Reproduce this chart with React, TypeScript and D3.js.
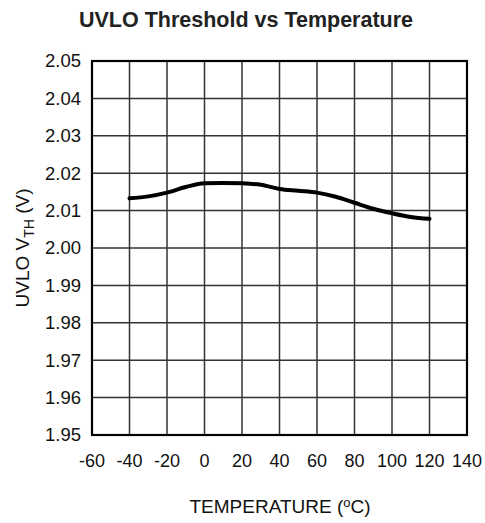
import React from "react";
import * as d3 from "d3";

const temps = [-40, -30, -20, -10, 0, 10, 20, 30, 40, 50, 60, 70, 80, 90, 100, 110, 120];
const vth = [2.0133, 2.0138, 2.0148, 2.0163, 2.0173, 2.0174, 2.0173, 2.0169, 2.0158, 2.0153, 2.0148, 2.0137, 2.0121, 2.0105, 2.0093, 2.0083, 2.0078];
const xTicks = [-60, -40, -20, 0, 20, 40, 60, 80, 100, 120, 140];
const yTicks = [1.95, 1.96, 1.97, 1.98, 1.99, 2.0, 2.01, 2.02, 2.03, 2.04, 2.05];

const W = 485, H = 523;
const L = 92, R = 467, T = 61, B = 435;

export default function App() {
  const x = d3.scaleLinear().domain([-60, 140]).range([L, R]);
  const y = d3.scaleLinear().domain([1.95, 2.05]).range([B, T]);
  const line = d3.line<number>().x((_, i) => x(temps[i])).y((d) => y(d)).curve(d3.curveMonotoneX);
  const font = "Liberation Sans, Arial, sans-serif";
  return (
    <svg width={W} height={H} style={{ position: "absolute", left: 0, top: 0 }} fontFamily={font}>
      <rect width={W} height={H} fill="#fff" />
      <text x={246} y={27} textAnchor="middle" fontSize={21.5} fontWeight="bold" fill="#222">UVLO Threshold vs Temperature</text>
      {xTicks.map((t) => (
        <line key={"vx" + t} x1={x(t)} x2={x(t)} y1={T} y2={B} stroke="#333" strokeWidth={1.5} />
      ))}
      {yTicks.map((t) => (
        <line key={"hy" + t} x1={L} x2={R} y1={y(t)} y2={y(t)} stroke="#333" strokeWidth={1.5} />
      ))}
      <rect x={L} y={T} width={R - L} height={B - T} fill="none" stroke="#000" strokeWidth={2.2} />
      <path d={line(vth) || ""} fill="none" stroke="#000" strokeWidth={4} strokeLinecap="round" />
      {yTicks.map((t) => (
        <text key={"ly" + t} x={81} y={y(t)} dy="0.35em" textAnchor="end" fontSize={18.5} fill="#111">{t.toFixed(2)}</text>
      ))}
      {xTicks.map((t) => (
        <text key={"lx" + t} x={x(t)} y={467} textAnchor="middle" fontSize={18} fill="#111">{t}</text>
      ))}
      <text x={280} y={513} textAnchor="middle" fontSize={19} fill="#111">
        TEMPERATURE (<tspan fontSize={13} dy={-6}>o</tspan><tspan dy={6}>C)</tspan>
      </text>
      <text transform={`translate(29,${(T + B) / 2}) rotate(-90)`} textAnchor="middle" fontSize={19} fill="#111">
        UVLO V<tspan fontSize={14} dy={5}>TH</tspan><tspan dy={-5}> (V)</tspan>
      </text>
    </svg>
  );
}
